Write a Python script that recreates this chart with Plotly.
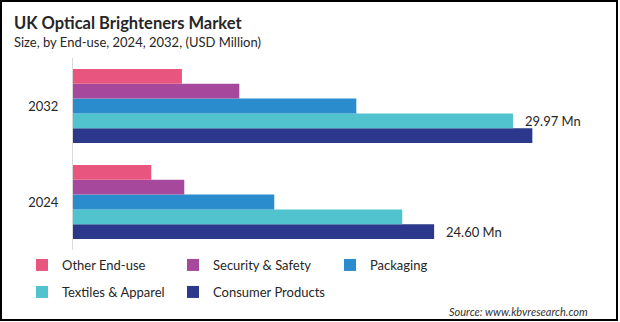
import plotly.graph_objects as go

# ---- data ----
categories = ["2024", "2032"]
series_names = ["Other End-use", "Security & Safety", "Packaging",
                "Textiles & Apparel", "Consumer Products"]
other_end_use = [5.33, 7.42]
security_safety = [7.58, 11.33]
packaging = [13.71, 19.30]
textiles_apparel = [22.43, 29.97]
consumer_products = [24.60, 31.29]
series_values = [other_end_use, security_safety, packaging,
                 textiles_apparel, consumer_products]
label_texts = {("Textiles & Apparel", "2032"): "29.97 Mn",
               ("Consumer Products", "2024"): "24.60 Mn"}

colors = ["#E8557F", "#A6499C", "#2A8BCD", "#50C3CE", "#2B388C"]
FONT = "Lato, 'Open Sans', sans-serif"

# ---- layout geometry (pixels) ----
W, H = 620, 322
ML, MR, MT, MB = 73, 19, 58, 72
PW, PH = W - ML - MR, H - MT - MB
PX_PER_UNIT = 14.68
XMAX = PW / PX_PER_UNIT


def px_x(px):
    return (px - ML) / PW


def px_y(py):
    return (H - MB - py) / PH


fig = go.Figure()

# add bottom-most first (plotly places grouped horizontal bars bottom-up)
legend_ids = ["legend", "legend2", "legend3", "legend4", "legend5"]
for i in reversed(range(len(series_names))):
    fig.add_trace(go.Bar(
        y=categories, x=series_values[i], name=series_names[i],
        orientation="h", marker=dict(color=colors[i], line=dict(width=0)),
        legend=legend_ids[i], hoverinfo="skip",
    ))

# legend placement: text start x, row center y
legend_pos = [(62, 265), (213, 265), (370, 265), (62, 292), (213, 292)]
legend_layout = {}
for lid, (tx, ty) in zip(legend_ids, legend_pos):
    legend_layout[lid] = dict(
        x=px_x(tx - 40), y=px_y(ty), xanchor="left", yanchor="middle",
        orientation="h", bgcolor="rgba(0,0,0,0)", borderwidth=0,
        font=dict(family=FONT, size=13, color="#262626"),
    )

group_px = (1 - 0.229) * PH / len(categories)
bar_px = group_px / len(series_names)

annotations = []
for (name, cat), txt in label_texts.items():
    idx = series_names.index(name)
    ci = categories.index(cat)
    val = series_values[idx][ci]
    annotations.append(dict(
        x=val, y=ci, xref="x", yref="y", text=txt, showarrow=False,
        xanchor="left", yanchor="middle", xshift=10,
        yshift=-(idx - 2) * bar_px,
        font=dict(family=FONT, size=13, color="#262626"),
    ))

annotations += [
    dict(x=px_x(12), y=px_y(22.5), xref="paper", yref="paper",
         text="<b>UK Optical Brighteners Market</b>", showarrow=False,
         xanchor="left", yanchor="middle",
         font=dict(family=FONT, size=16.5, color="#262626")),
    dict(x=px_x(12), y=px_y(42.5), xref="paper", yref="paper",
         text="Size, by End-use, 2024, 2032, (USD Million)", showarrow=False,
         xanchor="left", yanchor="middle",
         font=dict(family=FONT, size=13, color="#262626")),
    dict(x=px_x(590), y=px_y(311), xref="paper", yref="paper",
         text="Source: www.kbvresearch.com", showarrow=False,
         xanchor="right", yanchor="middle",
         font=dict(family=FONT, size=11, color="#333333", style="italic")),
]

fig.update_layout(
    width=W, height=H,
    margin=dict(l=ML, r=MR, t=MT, b=MB, pad=0),
    paper_bgcolor="white", plot_bgcolor="white",
    barmode="group", bargap=0.229, bargroupgap=0,
    font=dict(family=FONT, size=13, color="#262626"),
    xaxis=dict(range=[0, XMAX], showticklabels=False, showgrid=False,
               zeroline=False, showline=False, fixedrange=True),
    yaxis=dict(type="category", categoryorder="array",
               categoryarray=categories, range=[-0.5, 1.5],
               showgrid=False, zeroline=False, showline=True,
               linecolor="#D9D9D9", linewidth=1, ticks="",
               ticklabelstandoff=11,
               tickfont=dict(family=FONT, size=13, color="#262626")),
    annotations=annotations,
    shapes=[dict(type="rect", xref="paper", yref="paper",
                 x0=px_x(1), x1=px_x(617), y0=px_y(1), y1=px_y(320),
                 line=dict(color="black", width=2), fillcolor="rgba(0,0,0,0)",
                 layer="above")],
    showlegend=True,
    **legend_layout,
)

fig.write_html("out.html", config={"displayModeBar": False})
